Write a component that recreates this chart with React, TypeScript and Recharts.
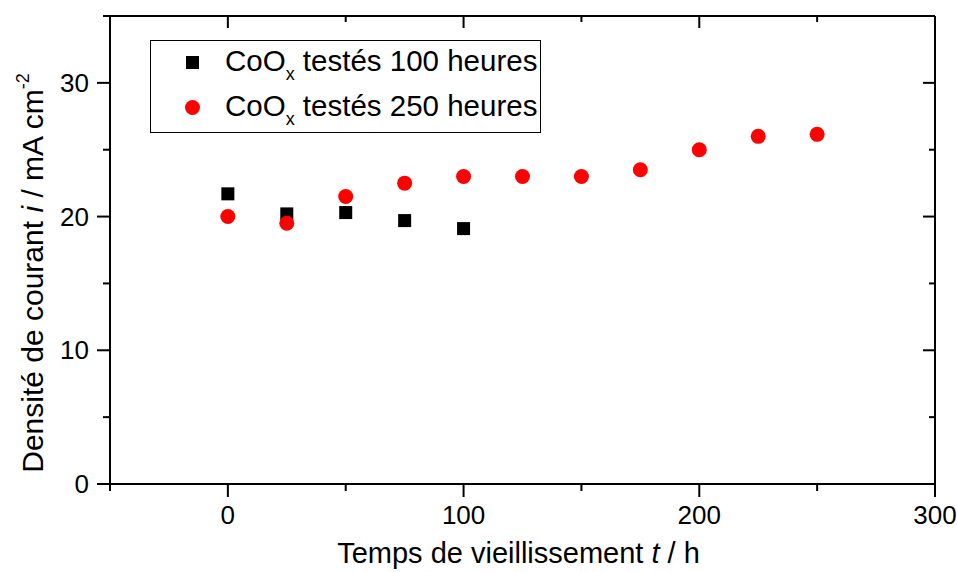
import React from "react"
import {
  ScatterChart,
  Scatter,
  XAxis,
  YAxis,
  Legend,
  Label
} from "recharts"

// temps (h) et densité de courant (mA cm-2)
const hours100 = [0, 25, 50, 75, 100]
const current100 = [21.7, 20.2, 20.3, 19.7, 19.1]
const hours250 = [0, 25, 50, 75, 100, 125, 150, 175, 200, 225, 250]
const current250 = [20.0, 19.5, 21.5, 22.5, 23.0, 23.0, 23.0, 23.5, 25.0, 26.0, 26.15]

const xTicks = [-50, 0, 50, 100, 150, 200, 250, 300]
const yTicks = [0, 5, 10, 15, 20, 25, 30, 35]
const xLabeled = [0, 100, 200, 300]
const yLabeled = [0, 10, 20, 30]

const series100 = hours100.map((t, i) => ({ t, i: current100[i] }))
const series250 = hours250.map((t, i) => ({ t, i: current250[i] }))

const FONT = "Arial, 'Liberation Sans', sans-serif"

const BottomTick = ({ x, y, payload }: any) => {
  const major = payload.value % 100 === 0
  return (
    <g>
      <line x1={x} y1={y} x2={x} y2={y + (major ? 13 : 7)} stroke="#000" strokeWidth={2} />
      {xLabeled.includes(payload.value) && (
        <text x={x} y={y + 40} textAnchor="middle" fontSize={26} fontFamily={FONT} fill="#000">
          {payload.value}
        </text>
      )}
    </g>
  )
}

const TopTick = ({ x, y, payload }: any) => {
  const major = payload.value % 100 === 0
  return <line x1={x} y1={y} x2={x} y2={y + (major ? 12 : 6)} stroke="#000" strokeWidth={2} />
}

const LeftTick = ({ x, y, payload }: any) => {
  const major = payload.value % 10 === 0
  return (
    <g>
      <line x1={x} y1={y} x2={x - (major ? 13 : 7)} y2={y} stroke="#000" strokeWidth={2} />
      {yLabeled.includes(payload.value) && (
        <text x={x - 21} y={y + 9} textAnchor="end" fontSize={26} fontFamily={FONT} fill="#000">
          {payload.value}
        </text>
      )}
    </g>
  )
}

const RightTick = ({ x, y, payload }: any) => {
  const major = payload.value % 10 === 0
  return <line x1={x} y1={y} x2={x - (major ? 12 : 6)} y2={y} stroke="#000" strokeWidth={2} />
}

const SquareDot = ({ cx, cy }: any) => (
  <rect x={cx - 6.5} y={cy - 6.5} width={13} height={13} fill="#000" />
)

const RedDot = ({ cx, cy }: any) => <circle cx={cx} cy={cy} r={7.5} fill="#ff0000" />

const NoDot = () => <g />

const YTitle = ({ viewBox }: any) => {
  const cx = 43
  const cy = viewBox.y + viewBox.height / 2 + 23
  return (
    <text
      x={cx}
      y={cy}
      transform={`rotate(-90, ${cx}, ${cy})`}
      textAnchor="middle"
      fontSize={30}
      fontFamily={FONT}
      fill="#000"
    >
      Densité de courant <tspan fontStyle="italic">i</tspan> / mA cm
      <tspan fontSize={18} dy={-14}>-2</tspan>
    </text>
  )
}

const XTitle = ({ viewBox }: any) => (
  <text
    x={viewBox.x + viewBox.width / 2 - 4}
    y={viewBox.y + 79}
    textAnchor="middle"
    fontSize={29}
    fontFamily={FONT}
    fill="#000"
  >
    Temps de vieillissement <tspan fontStyle="italic">t</tspan> / h
  </text>
)

const LegendBox = () => {
  const rows = [
    { label: "100", marker: <div style={{ width: 13, height: 13, background: "#000" }} /> },
    { label: "250", marker: <div style={{ width: 15, height: 15, borderRadius: 8, background: "#ff0000" }} /> }
  ]
  return (
    <div
      style={{
        boxSizing: "border-box",
        width: 391,
        height: 93,
        border: "1px solid #000",
        background: "#fff",
        fontFamily: FONT,
        fontSize: 29.5,
        color: "#000"
      }}
    >
      {rows.map((r) => (
        <div key={r.label} style={{ position: "relative", height: 45 }}>
          <div style={{ position: "absolute", left: 34, top: 14, width: 15, height: 15, display: "flex", alignItems: "center", justifyContent: "center" }}>
            {r.marker}
          </div>
          <span style={{ position: "absolute", left: 74, top: 5, whiteSpace: "nowrap", lineHeight: "30px" }}>
            CoO<sub style={{ fontSize: 18, verticalAlign: -9 }}>x</sub> testés {r.label} heures
          </span>
        </div>
      ))}
    </div>
  )
}

export default function App() {
  return (
    <div style={{ position: "absolute", left: 0, top: 0, background: "#fff" }}>
      <ScatterChart width={957} height={572} margin={{ top: 15, right: 21, bottom: 0, left: 0 }}>
        <XAxis
          dataKey="t"
          type="number"
          domain={[-50, 300]}
          ticks={xTicks}
          allowDataOverflow
          height={88}
          tickSize={0}
          tickMargin={0}
          tickLine={false}
          tick={BottomTick}
          axisLine={{ stroke: "#000", strokeWidth: 2 }}
        >
          <Label content={XTitle} />
        </XAxis>
        <XAxis
          xAxisId="top"
          orientation="top"
          dataKey="t"
          type="number"
          domain={[-50, 300]}
          ticks={xTicks}
          allowDataOverflow
          height={1}
          tickSize={0}
          tickMargin={0}
          tickLine={false}
          tick={TopTick}
          axisLine={{ stroke: "#000", strokeWidth: 2 }}
        />
        <YAxis
          dataKey="i"
          type="number"
          domain={[0, 35]}
          ticks={yTicks}
          allowDataOverflow
          width={110}
          tickSize={0}
          tickMargin={0}
          tickLine={false}
          tick={LeftTick}
          axisLine={{ stroke: "#000", strokeWidth: 2 }}
        >
          <Label content={YTitle} />
        </YAxis>
        <YAxis
          yAxisId="right"
          orientation="right"
          dataKey="i"
          type="number"
          domain={[0, 35]}
          ticks={yTicks}
          allowDataOverflow
          width={1}
          tickSize={0}
          tickMargin={0}
          tickLine={false}
          tick={RightTick}
          axisLine={{ stroke: "#000", strokeWidth: 2 }}
        />
        <Legend
          layout="vertical"
          align="center"
          verticalAlign="middle"
          content={LegendBox}
          wrapperStyle={{ position: "absolute", left: 150, top: 40, width: 391, height: 93 }}
        />
        <Scatter name="100" data={series100} shape={SquareDot} isAnimationActive={false} />
        <Scatter name="250" data={series250} shape={RedDot} isAnimationActive={false} />
        <Scatter
          name="frame"
          data={series250}
          xAxisId="top"
          yAxisId="right"
          shape={NoDot}
          legendType="none"
          isAnimationActive={false}
        />
      </ScatterChart>
    </div>
  )
}
